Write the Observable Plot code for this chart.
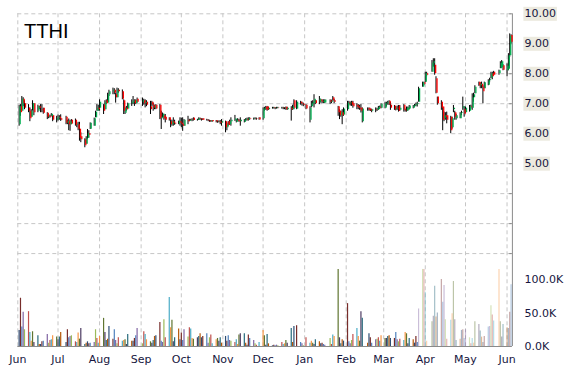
<!DOCTYPE html>
<html><head><meta charset="utf-8">
<script src="https://cdn.jsdelivr.net/npm/d3@7"></script>
<script src="https://cdn.jsdelivr.net/npm/@observablehq/plot@0.6"></script>
<style>
body{margin:0;background:#fff;}
#wrap{position:relative;width:570px;height:370px;overflow:hidden;}
#wrap svg{position:absolute;left:0;top:0;overflow:visible;background:transparent;}
#title{position:absolute;left:24px;top:20px;font:20px "Liberation Sans",Arial,sans-serif;color:#000;line-height:normal;z-index:2;}
</style></head><body>
<div id="wrap"><div id="title">TTHI</div></div>
<script>
const ticker = "TTHI";
const firstDay = "2014-06-02", lastDay = "2015-06-04";
const holidays = ["2014-07-04","2014-09-01","2014-11-27","2014-12-25","2015-01-01","2015-01-19","2015-02-16","2015-04-03","2015-05-25"];
const monthTicks = ["2014-06-01","2014-07-01","2014-08-01","2014-09-01","2014-10-01","2014-11-01","2014-12-01","2015-01-01","2015-02-01","2015-03-01","2015-04-01","2015-05-01","2015-06-01"];
const priceTicks = [5,6,7,8,9,10];
const priceGrid = [2,3,4,5,6,7,8,9,10];
const volumeTicks = [0,50000,100000];

const open = [
 6.30,6.90,6.75,7.15,7.00, 6.85,6.75,6.55,6.80,7.00, 6.75,6.90,6.80,6.80,6.85, 6.68,6.55,6.58,6.58,6.60, 6.45,
 6.50,6.55,6.50, 6.55,6.35,6.40,6.30,6.45, 6.45,6.28,6.30,6.15,5.90, 5.80,5.65,5.85,6.00,6.15, 6.25,6.53,6.75,6.85,
 6.85, 6.95,6.80,7.10,7.02,7.30, 7.40,7.45,7.30,7.20,7.45, 7.40,7.10,6.68,6.85,6.82, 7.00,7.05,7.10,7.00,7.15,
 7.05,7.10,7.00,7.05, 6.90,7.05,6.95,6.85,6.95, 6.95,6.50,6.55,6.60,6.55, 6.53,6.40,6.30,6.40,6.35, 6.32,6.40,
 6.35,6.30,6.25, 6.45,6.42,6.45,6.44,6.52, 6.44,6.46,6.50,6.47,6.50, 6.45,6.44,6.42,6.40,6.44, 6.43,6.39,6.40,6.38,6.35,
 6.40,6.20,6.40,6.30,6.40, 6.45,6.38,6.45,6.42,6.40, 6.38,6.45,6.48,6.45,6.50, 6.48,6.50,6.49,6.53,
 6.50,6.82,6.88,6.90,6.80, 6.85,6.86,6.84,6.85,6.86, 6.85,6.86,6.84,6.88,6.80, 6.85,6.80,7.10,6.82, 7.05,7.00,6.98,
 6.95,6.45,6.90,7.00,7.00,7.10, 7.05,7.12,7.08,7.02,7.02, 7.10,7.05,7.20,7.10, 6.90,6.75,6.60,6.70,6.62,
 6.80,7.02,7.00,7.05,7.00, 6.95,6.90,6.85,6.85,6.40, 6.82,6.85,6.80,6.75, 6.80,6.78,6.80,6.88,6.85,
 6.85,7.00,7.02,7.08,6.95, 6.92,6.80,6.85,6.92,6.78, 6.95,6.78,6.75,6.78,6.82, 6.85,6.92,6.95,6.98,7.05, 7.55,7.70,
 7.72,8.00, 8.05,8.35,8.28,7.83,7.22, 7.05,6.89,6.50,6.60,6.60, 6.55,6.20,6.80,6.70,6.50, 6.50,6.68,6.85,6.80,
 6.70, 6.75,6.90,6.85,7.20,7.33, 7.72,7.60,7.65,7.55,7.50, 7.62,7.77,7.85,8.00,8.05, 8.00,8.17,8.20,8.27,
 8.10,8.15,8.60,9.28
];
const high = [
 6.95,6.97,7.24,7.20,7.10, 6.97,6.86,6.80,7.10,7.00, 6.95,6.92,6.97,6.97,6.85, 6.70,6.62,6.62,6.67,6.62, 6.58,
 6.62,6.60,6.63, 6.58,6.45,6.49,6.45,6.47, 6.49,6.35,6.38,6.38,6.03, 5.83,5.90,6.14,6.10,6.36, 6.52,6.75,6.97,6.95,
 7.13, 6.97,7.10,7.13,7.35,7.45, 7.52,7.50,7.35,7.52,7.50, 7.46,7.13,6.86,6.91,7.02, 7.13,7.24,7.13,7.13,7.19,
 7.19,7.15,7.13,7.10, 7.08,7.08,7.02,6.95,6.97, 6.97,6.75,6.69,6.65,6.64, 6.53,6.47,6.45,6.53,6.45, 6.42,6.53,
 6.52,6.53,6.47, 6.58,6.48,6.48,6.50,6.53, 6.48,6.53,6.52,6.50,6.50, 6.48,6.47,6.45,6.44,6.44, 6.44,6.42,6.43,6.44,6.47,
 6.42,6.35,6.40,6.45,6.53, 6.61,6.47,6.50,6.48,6.53, 6.47,6.50,6.52,6.53,6.53, 6.52,6.53,6.52,6.53,
 6.86,6.88,6.91,6.91,6.88, 6.88,6.88,6.87,6.88,6.88, 6.88,6.88,6.87,6.89,6.88, 6.90,6.95,7.13,7.10, 7.08,7.05,7.02,
 6.97,6.90,7.08,7.10,7.30,7.12, 7.24,7.15,7.13,7.13,7.13, 7.13,7.12,7.24,7.15, 6.91,6.80,6.75,6.80,6.86,
 7.08,7.08,7.06,7.08,7.08, 7.00,6.97,6.95,6.97,6.86, 6.86,6.86,6.82,6.82, 6.86,6.85,6.91,6.92,7.00,
 7.05,7.05,7.08,7.10,7.05, 6.94,6.90,6.92,6.94,6.94, 6.97,6.82,6.89,6.89,6.94, 6.94,6.98,7.02,7.05,7.55, 7.72,7.72,
 8.05,8.05, 8.44,8.50,8.50,7.90,7.22, 7.10,6.89,6.72,6.70,6.72, 6.58,6.55,6.94,6.75,6.65, 6.70,6.75,7.22,6.90,
 6.89, 6.94,6.95,7.33,7.35,7.60, 7.72,7.70,7.72,7.60,7.72, 7.80,7.85,8.05,8.05,8.08, 8.12,8.40,8.44,8.30,
 8.33,8.67,9.33,9.30
];
const low = [
 6.25,6.58,6.75,6.90,6.80, 6.70,6.40,6.55,6.75,6.60, 6.70,6.80,6.70,6.70,6.65, 6.47,6.50,6.52,6.58,6.40, 6.36,
 6.42,6.45,6.41, 6.30,6.30,6.10,6.08,6.30, 6.25,6.20,6.10,5.75,5.70, 5.53,5.65,5.80,5.85,6.14, 6.25,6.53,6.75,6.75,
 6.75, 6.64,6.80,6.97,7.02,7.24, 7.30,7.30,7.02,7.20,7.35, 7.13,6.64,6.64,6.75,6.80, 6.91,6.97,6.91,6.97,7.02,
 6.91,6.95,6.86,6.90, 6.64,6.91,6.75,6.80,6.80, 6.47,6.14,6.53,6.45,6.36, 6.42,6.20,6.25,6.25,6.28, 6.30,6.25,
 6.20,6.08,6.25, 6.30,6.40,6.42,6.40,6.42, 6.42,6.44,6.45,6.42,6.44, 6.42,6.40,6.38,6.38,6.38, 6.36,6.35,6.36,6.30,6.25,
 6.03,6.10,6.25,6.28,6.25, 6.41,6.36,6.40,6.38,6.25, 6.36,6.40,6.42,6.42,6.45, 6.45,6.46,6.45,6.45,
 6.45,6.75,6.78,6.75,6.78, 6.82,6.82,6.80,6.82,6.83, 6.82,6.80,6.80,6.78,6.78, 6.42,6.78,6.80,6.80, 6.95,6.92,6.90,
 6.80,6.36,6.86,6.92,6.86,6.97, 6.97,7.02,7.00,7.00,7.00, 6.97,7.00,7.08,7.00, 6.58,6.47,6.55,6.30,6.58,
 6.75,6.95,6.92,6.91,6.85, 6.80,6.80,6.78,6.69,6.36, 6.75,6.75,6.74,6.70, 6.70,6.74,6.78,6.82,6.83,
 6.83,6.89,6.95,6.94,6.78, 6.78,6.76,6.78,6.72,6.75, 6.72,6.72,6.72,6.75,6.80, 6.83,6.88,6.90,6.89,7.05, 7.55,7.60,
 7.70,7.90, 8.05,8.22,7.95,7.33,6.95, 6.78,6.10,6.40,6.45,6.33, 6.00,6.15,6.70,6.45,6.45, 6.50,6.60,6.78,6.55,
 6.67, 6.72,6.82,6.78,7.05,7.33, 7.58,7.50,7.50,7.00,7.50, 7.60,7.70,7.83,7.80,7.93, 7.95,8.17,8.20,8.10,
 7.90,8.10,8.55,9.00
];
const close = [
 6.90,6.70,7.15,7.00,6.85, 6.75,6.50,6.75,7.00,6.70, 6.90,6.85,6.80,6.78,6.68, 6.55,6.58,6.55,6.65,6.45, 6.50,
 6.55,6.50,6.45, 6.35,6.40,6.30,6.40,6.32, 6.28,6.30,6.15,5.85,5.80, 5.60,5.85,6.00,5.95,6.35, 6.50,6.72,6.85,6.80,
 7.05, 6.75,7.05,7.00,7.30,7.40, 7.45,7.35,7.20,7.45,7.40, 7.15,6.75,6.85,6.80,7.00, 7.05,7.10,7.00,7.10,7.05,
 7.10,7.00,7.05,6.95, 6.80,6.95,6.85,6.90,6.82, 6.50,6.55,6.65,6.50,6.45, 6.44,6.30,6.40,6.35,6.32, 6.40,6.35,
 6.30,6.25,6.45, 6.40,6.45,6.44,6.46,6.44, 6.46,6.50,6.47,6.45,6.45, 6.44,6.42,6.40,6.42,6.40, 6.39,6.40,6.38,6.35,6.40,
 6.20,6.30,6.28,6.40,6.45, 6.50,6.45,6.42,6.40,6.45, 6.45,6.48,6.45,6.50,6.48, 6.50,6.49,6.48,6.46,
 6.82,6.85,6.80,6.78,6.85, 6.86,6.84,6.85,6.86,6.85, 6.86,6.84,6.85,6.80,6.85, 6.80,6.90,6.85,7.05, 7.00,6.98,6.95,
 6.82,6.85,7.00,7.05,7.15,7.00, 7.15,7.08,7.05,7.10,7.12, 7.05,7.08,7.10,7.05, 6.70,6.60,6.70,6.60,6.82,
 7.02,7.00,7.02,6.95,6.90, 6.88,6.85,6.82,6.75,6.82, 6.80,6.78,6.76,6.80, 6.78,6.82,6.88,6.86,6.98,
 7.00,7.02,7.05,6.96,6.85, 6.80,6.85,6.82,6.75,6.85, 6.78,6.76,6.85,6.86,6.92, 6.92,6.95,6.98,7.00,7.50, 7.70,7.65,
 8.00,7.95, 8.35,8.40,8.00,7.35,7.00, 6.85,6.45,6.60,6.55,6.45, 6.10,6.50,6.85,6.55,6.60, 6.68,6.70,6.90,6.65,
 6.85, 6.90,6.88,7.20,7.30,7.55, 7.60,7.65,7.55,7.40,7.70, 7.77,7.80,8.00,7.90,7.95, 8.10,8.35,8.40,8.12,
 8.25,8.60,9.25,9.05
];
const volumeK = [
 24,72,29,51,25, 52,21,8,22,6, 16,3,3,7,8, 18,5,9,10,16, 14,
 10,14,21, 6,25,13,15,16, 7,6,20,11,27, 3,5,7,4,5, 6,25,12,5,
 15, 42,21,9,11,30, 11,25,9,4,13, 8,9,10,3,18, 8,8,12,16,27,
 4,22,18,10, 7,5,9,15,16, 36,8,6,40,13, 73,28,39,7,13, 26,10,
 20,9,25, 14,28,26,12,11, 13,15,19,13,15, 19,5,13,17,4, 10,12,8,13,5,
 15,8,16,9,8, 6,10,3,17,19, 19,5,2,17,12, 9,4,2,6,
 24,16,2,18,4, 1,2,1,2,1, 6,3,4,9,5, 27,6,30,31, 6,4,1,
 13,5,8,5,3,10, 7,4,5,3,2, 12,3,17,15, 115,13,4,10,8,
 64,7,4,9,18, 27,15,8,52,42, 5,19,13,5, 10,11,13,8,16,
 12,12,15,16,12, 12,21,10,7,11, 9,21,19,4,12, 10,5,15,6,56, 115,115,
 81,8, 37,45,90,44,50, 100,66,91,40,11, 39,49,97,40,9, 11,24,25,12,
 25, 13,4,12,5,37, 33,23,14,6,15, 29,30,61,47,38, 115,37,14,33,
 28,27,51,92
];
const barPalette = ["#2C4D75","#772C2A","#4F81BD","#8064A2","#9BBB59","#C0504D","#4BACC6","#F79646","#5F7530","#4D3B62","#276A7C","#B65708"];
const fadeFrom = "2015-03-27";

// build trading days
const parse = d3.utcParse("%Y-%m-%d");
const hol = new Set(holidays);
const dates = d3.utcDay.range(parse(firstDay), d3.utcDay.offset(parse(lastDay),1))
  .filter(d => d.getUTCDay()!==0 && d.getUTCDay()!==6 && !hol.has(d3.utcFormat("%Y-%m-%d")(d)));
const rows = dates.map((date,i)=>({date, open:open[i], high:high[i], low:low[i], close:close[i], volume:volumeK[i]*1000, i}));
const months = monthTicks.map(parse);
const fadeDate = parse(fadeFrom);

const W=570, H=370, ML=17.3, MR=58.1, MB=24;
const xDomain=[parse("2014-06-01"), parse("2015-06-05")];
const txt="#16163e";
const gridStyle={stroke:"#c6c6c6", strokeDasharray:"4,3", strokeWidth:1};

const pricePlot = Plot.plot({
  width:W, height:H, marginLeft:ML, marginRight:MR, marginTop:13.3, marginBottom:MB,
  x:{type:"utc", domain:xDomain, axis:null},
  y:{domain:[-1.1,10], axis:null, label:null},
  style:{fontFamily:"'DejaVu Sans', Verdana, sans-serif", fontSize:"11px", color:txt, background:"transparent"},
  marks:[
    Plot.ruleY(priceGrid, gridStyle),
    Plot.ruleX(months, gridStyle),
    Plot.ruleX([xDomain[1]], {stroke:"#8a8a8a", strokeWidth:1}),
    Plot.ruleY(priceGrid, {y:d=>d, x1:()=>parse("2015-06-03"), x2:()=>xDomain[1], stroke:"#8a8a8a"}),
    Plot.axisY(priceTicks, {anchor:"right", label:null, tickSize:0, tickPadding:12, tickFormat:d3.format(".2f"), fill:txt}),
    Plot.ruleX(rows, {x:"date", y1:"low", y2:"high", stroke:"#000", strokeWidth:1}),
    Plot.ruleX(rows, {x:"date", y1:"open", y2:"close", stroke:d=>d.close>=d.open?"#00b050":"#ff0000", strokeWidth:1.3, dx:1})
  ],
  color:{type:"identity"}
});

const volPlot = Plot.plot({
  width:W, height:H, marginLeft:ML, marginRight:MR, marginTop:254.2, marginBottom:MB,
  x:{type:"utc", domain:xDomain, axis:null, label:null},
  y:{domain:[0,137000], axis:null, label:null},
  style:{fontFamily:"'DejaVu Sans', Verdana, sans-serif", fontSize:"11px", color:txt, background:"transparent"},
  color:{type:"identity"},
  marks:[
    Plot.ruleX(rows.filter(d=>d.date<fadeDate), {x:"date", y1:0, y2:"volume", stroke:d=>barPalette[d.i%barPalette.length], strokeWidth:1.2}),
    Plot.ruleX(rows.filter(d=>d.date>=fadeDate), {x:"date", y1:0, y2:"volume", stroke:d=>barPalette[d.i%barPalette.length], strokeOpacity:0.42, strokeWidth:1.2}),
    Plot.ruleY([0], {stroke:"#8a8a8a"}),
    Plot.axisX(months, {anchor:"bottom", label:null, tickSize:0, tickPadding:9, tickFormat:d3.utcFormat("%b"), fill:txt}),
    Plot.axisY(volumeTicks, {anchor:"right", label:null, tickSize:0, tickPadding:12, tickFormat:d=>(d/1000).toFixed(1)+"K", fill:txt})
  ]
});

const wrap=document.getElementById("wrap");
wrap.appendChild(pricePlot);
wrap.appendChild(volPlot);

// beige boxes behind price labels
d3.select(pricePlot).selectAll('g[aria-label="y-axis tick label"] text').each(function(){
  const b=this.getBBox();
  const t=this.getAttribute("transform");
  const r=document.createElementNS("http://www.w3.org/2000/svg","rect");
  r.setAttribute("x",b.x-1); r.setAttribute("y",b.y-0.5);
  r.setAttribute("width",b.width+2); r.setAttribute("height",b.height+1);
  r.setAttribute("fill","#ECEADF");
  if(t) r.setAttribute("transform",t);
  this.parentNode.insertBefore(r,this);
});
</script>
</body></html>
